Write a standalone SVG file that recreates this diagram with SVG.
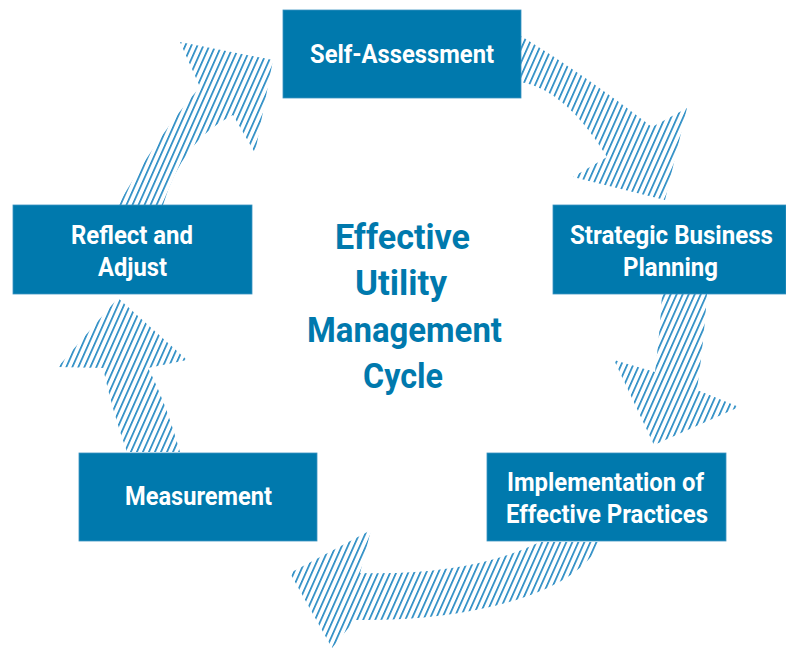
<svg xmlns="http://www.w3.org/2000/svg" width="786" height="649" viewBox="0 0 786 649">
<defs>
<pattern id="hatch" patternUnits="userSpaceOnUse" width="5.5" height="10" patternTransform="rotate(24)">
<rect x="0" y="0" width="1.7" height="10" fill="#2a8cc4"/>
</pattern>
<style>
.box{fill:#0079ad;stroke:#3a93c0;stroke-width:0.8}
.lbl{font-family:Roboto,"Liberation Sans",sans-serif;font-weight:700;font-size:25px;fill:#ffffff;text-anchor:middle}
.ctr{font-family:Roboto,"Liberation Sans",sans-serif;font-weight:700;font-size:35px;fill:#0079ad;text-anchor:middle}
.arr{fill:url(#hatch)}
</style>
</defs>
<rect width="786" height="649" fill="#ffffff"/>
<g id="connectors">
<path class="arr" d="M521,36 Q585,75 652,127 L687,108 L665,200 L573,177 L607,157 Q566,90 521,82 Z"/>
<path class="arr" d="M662,294 L707,294 Q704,340 697,390 L739,407 L654,445 L614,360 L655,372 Q660,330 662,294 Z"/>
<path class="arr" d="M600,542 C575,600 450,622 355,620 L332,648 L290,573 L371,530 L360,573 Q470,576 540,542 Z"/>
<path class="arr" d="M127,452 L180,452 Q165,400 148,368 L187,360 L118,298 L58,367 L103,368 Q112,410 127,452 Z"/>
<path class="arr" d="M118,205 L163,205 Q182,140 233,115 L255,153 L273,60 L180,42 L200,87 Q159,134 118,205 Z"/>
</g>
<g id="center-title">
<text class="ctr" x="402.5" y="249" textLength="135" lengthAdjust="spacingAndGlyphs">Effective</text>
<text class="ctr" x="401" y="295" textLength="92" lengthAdjust="spacingAndGlyphs">Utility</text>
<text class="ctr" x="404.5" y="342" textLength="195" lengthAdjust="spacingAndGlyphs">Management</text>
<text class="ctr" x="403" y="388" textLength="80" lengthAdjust="spacingAndGlyphs">Cycle</text>
</g>
<g id="self-assessment">
<rect class="box" x="283" y="10" width="238" height="88"/>
<text class="lbl" x="402" y="63" textLength="184" lengthAdjust="spacingAndGlyphs">Self-Assessment</text>
</g>
<g id="strategic-business-planning">
<rect class="box" x="553" y="205" width="233" height="89"/>
<text class="lbl" x="671.5" y="244" textLength="203" lengthAdjust="spacingAndGlyphs">Strategic Business</text>
<text class="lbl" x="670.5" y="276" textLength="95" lengthAdjust="spacingAndGlyphs">Planning</text>
</g>
<g id="implementation">
<rect class="box" x="487" y="453" width="239" height="88"/>
<text class="lbl" x="605.5" y="491" textLength="197" lengthAdjust="spacingAndGlyphs">Implementation of</text>
<text class="lbl" x="607" y="523" textLength="202" lengthAdjust="spacingAndGlyphs">Effective Practices</text>
</g>
<g id="measurement">
<rect class="box" x="79" y="453" width="238" height="88"/>
<text class="lbl" x="198.5" y="505" textLength="147" lengthAdjust="spacingAndGlyphs">Measurement</text>
</g>
<g id="reflect-and-adjust">
<rect class="box" x="13" y="205" width="239" height="89"/>
<text class="lbl" x="132" y="244" textLength="122" lengthAdjust="spacingAndGlyphs">Reflect and</text>
<text class="lbl" x="132.5" y="276" textLength="69" lengthAdjust="spacingAndGlyphs">Adjust</text>
</g>
</svg>
